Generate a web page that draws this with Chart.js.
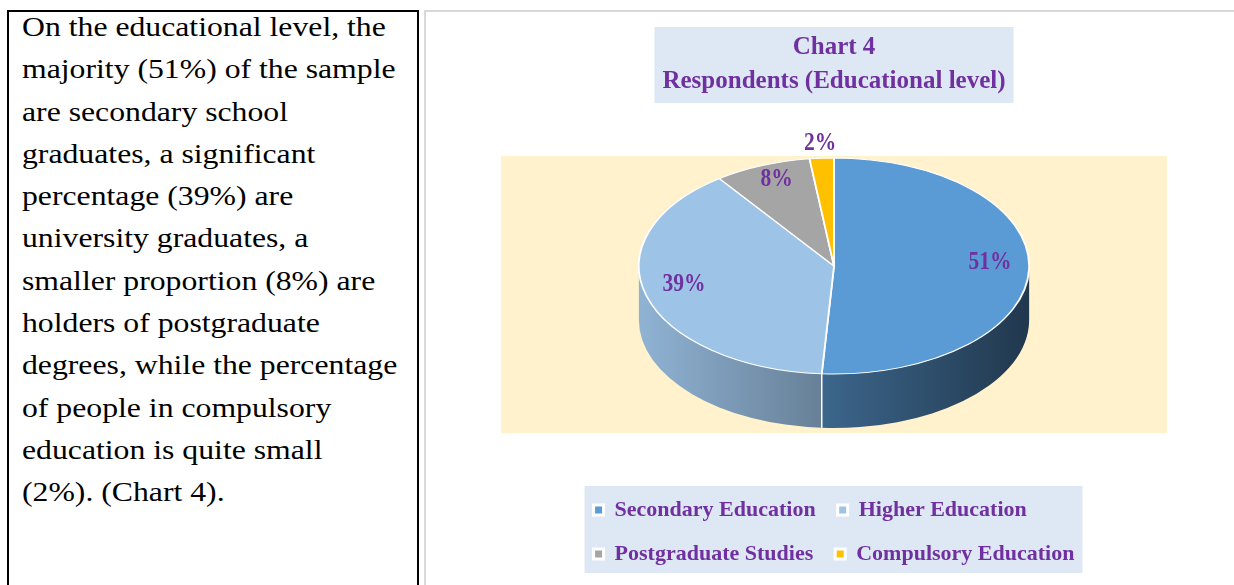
<!DOCTYPE html>
<html>
<head>
<meta charset="utf-8">
<script src="https://cdn.jsdelivr.net/npm/chart.js@4.4.1/dist/chart.umd.min.js"></script>
<style>
  body { margin: 0; width: 1234px; height: 585px; overflow: hidden; background: #fff; position: relative; }
  #left { position: absolute; left: 7px; top: 10px; width: 408px; height: 620px; border: 2px solid #000; }
  #txt { position: absolute; left: 22px; top: 6px; font: 27px 'Liberation Serif', 'Times New Roman', serif; line-height: 42.3px; color: #000; white-space: nowrap; transform: scaleX(1.175); transform-origin: 0 0; }
  #right { position: absolute; left: 424px; top: 10px; width: 830px; height: 620px; border-left: 2px solid #d9d9d9; border-top: 2px solid #d9d9d9; }
  #myChart { position: absolute; left: 428px; top: 12px; }
</style>
</head>
<body>
<div id="left"></div>
<div id="txt">On the educational level, the<br>majority (51%) of the sample<br>are secondary school<br>graduates, a significant<br>percentage (39%) are<br>university graduates, a<br>smaller proportion (8%) are<br>holders of postgraduate<br>degrees, while the percentage<br>of people in compulsory<br>education is quite small<br>(2%). (Chart 4).</div>
<div id="right"></div>
<canvas id="myChart" width="806" height="573"></canvas>
<script>
// chart data
const titleLines = ['Chart 4', 'Respondents (Educational level)'];
const labels = ['Secondary Education', 'Higher Education', 'Postgraduate Studies', 'Compulsory Education'];
const values = [51, 39, 8, 2];
const colors = ['#5b9bd5', '#9dc3e6', '#a5a5a5', '#ffc000'];

const purple = '#7030a0';
const serif = "'Liberation Serif', 'Times New Roman', serif";

function shade(hex, f) {
  var n = parseInt(hex.slice(1), 16);
  var r = Math.round(((n >> 16) & 255) * f);
  var g = Math.round(((n >> 8) & 255) * f);
  var b = Math.round((n & 255) * f);
  return 'rgb(' + r + ',' + g + ',' + b + ')';
}

// cream plot area (chart area minus the gap above the legend)
function plotBox(chart) {
  var a = chart.chartArea;
  return { left: a.left, right: a.right, top: a.top, bottom: a.bottom - 44 };
}

// ellipse used for the tilted pie
function pieShape(chart) {
  var p = plotBox(chart);
  var w = p.right - p.left, h = p.bottom - p.top;
  return { x: (p.left + p.right) / 2, y: p.top + h * 0.397, rx: w * 0.293, ry: h * 0.39, depth: h * 0.195 };
}

const pie3d = {
  id: 'pie3d',
  afterLayout: function (chart) {
    // same width for both legend rows so the columns line up
    var lg = chart.legend;
    if (lg && lg.lineWidths) {
      var m = Math.max.apply(null, lg.lineWidths);
      for (var i = 0; i < lg.lineWidths.length; i++) lg.lineWidths[i] = m;
    }
  },
  beforeDraw: function (chart) {
    var ctx = chart.ctx;
    var p = plotBox(chart);
    ctx.save();
    ctx.fillStyle = '#fff2cc';
    ctx.fillRect(p.left, p.top, p.right - p.left, p.bottom - p.top);

    var tb = chart.titleBlock;
    ctx.font = 'bold 25px ' + serif;
    var tw = ctx.measureText(titleLines[1]).width;
    var mid = (tb.left + tb.right) / 2;
    ctx.fillStyle = '#dde8f4';
    ctx.fillRect(mid - tw / 2 - 8, tb.top + 7, tw + 16, 76);

    var hb = chart.legend.legendHitBoxes;
    var l = Infinity, r = -Infinity, t = Infinity, b = -Infinity;
    hb.forEach(function (h) {
      l = Math.min(l, h.left); r = Math.max(r, h.left + h.width);
      t = Math.min(t, h.top); b = Math.max(b, h.top + h.height);
    });
    ctx.fillRect(l - 9, t - 13, r - l + 17, b - t + 21);
    ctx.restore();
  },
  beforeDatasetsDraw: function (chart) {
    var ctx = chart.ctx;
    var meta = chart.getDatasetMeta(0);
    var s = pieShape(chart);
    ctx.save();
    // side walls of the front half
    meta.data.forEach(function (arc, i) {
      var a0 = Math.max(arc.startAngle, 0), a1 = Math.min(arc.endAngle, Math.PI);
      if (a1 <= a0) return;
      var grad = ctx.createLinearGradient(s.x - s.rx, 0, s.x + s.rx, 0);
      grad.addColorStop(0, shade(colors[i], 0.92));
      grad.addColorStop(1, shade(colors[i], 0.36));
      ctx.beginPath();
      ctx.ellipse(s.x, s.y, s.rx, s.ry, 0, a0, a1);
      ctx.ellipse(s.x, s.y + s.depth, s.rx, s.ry, 0, a1, a0, true);
      ctx.closePath();
      ctx.fillStyle = grad;
      ctx.fill();
    });
    ctx.strokeStyle = '#fff';
    ctx.lineWidth = 1.5;
    meta.data.forEach(function (arc) {
      var a = arc.startAngle;
      if (a > 0 && a < Math.PI) {
        var px = s.x + s.rx * Math.cos(a), py = s.y + s.ry * Math.sin(a);
        ctx.beginPath();
        ctx.moveTo(px, py);
        ctx.lineTo(px, py + s.depth);
        ctx.stroke();
      }
    });
    ctx.restore();

    // squash the round pie onto the ellipse
    var el = meta.data[0];
    ctx.save();
    ctx.translate(s.x, s.y);
    ctx.scale(s.rx / el.outerRadius, s.ry / el.outerRadius);
    ctx.translate(-el.x, -el.y);
  },
  afterDatasetsDraw: function (chart) {
    var ctx = chart.ctx;
    ctx.restore();
    var meta = chart.getDatasetMeta(0);
    var s = pieShape(chart);
    ctx.save();
    ctx.font = 'bold 25px ' + serif;
    ctx.fillStyle = purple;
    ctx.textAlign = 'center';
    ctx.textBaseline = 'middle';
    meta.data.forEach(function (arc, i) {
      var a = (arc.startAngle + arc.endAngle) / 2;
      var outside = values[i] < 5;
      var f = outside ? 1.14 : 0.8;
      var x = s.x + s.rx * f * Math.cos(a);
      var y = s.y + s.ry * f * Math.sin(a) - (outside ? 0 : 6);
      // narrow the label glyphs a little
      ctx.save();
      ctx.translate(x, y);
      ctx.scale(0.86, 1);
      ctx.fillText(values[i] + '%', 0, 0);
      ctx.restore();
    });
    ctx.restore();
  }
};

const ctx = document.getElementById('myChart').getContext('2d');
const myChart = new Chart(ctx, {
  type: 'pie',
  data: {
    labels: labels,
    datasets: [{
      data: values,
      backgroundColor: colors,
      borderColor: '#ffffff',
      borderWidth: 1.5,
      clip: false
    }]
  },
  options: {
    responsive: false,
    devicePixelRatio: 1,
    animation: false,
    events: [],
    layout: { padding: { left: 73, right: 67, top: 8, bottom: 10 } },
    plugins: {
      tooltip: { enabled: false },
      title: {
        display: true,
        text: titleLines,
        color: purple,
        font: { family: serif, size: 25, weight: 'bold', lineHeight: 1.38 },
        padding: { top: 10, bottom: 57 }
      },
      legend: {
        position: 'bottom',
        labels: {
          color: purple,
          font: { family: serif, size: 22, weight: 'bold' },
          boxWidth: 10,
          boxHeight: 10,
          padding: 22,
          generateLabels: function (chart) {
            var items = Chart.overrides.pie.plugins.legend.labels.generateLabels(chart);
            items.forEach(function (it) {
              it.strokeStyle = '#ffffff';
              it.lineWidth = 3;
            });
            return items;
          }
        }
      }
    }
  },
  plugins: [pie3d]
});
</script>
</body>
</html>
